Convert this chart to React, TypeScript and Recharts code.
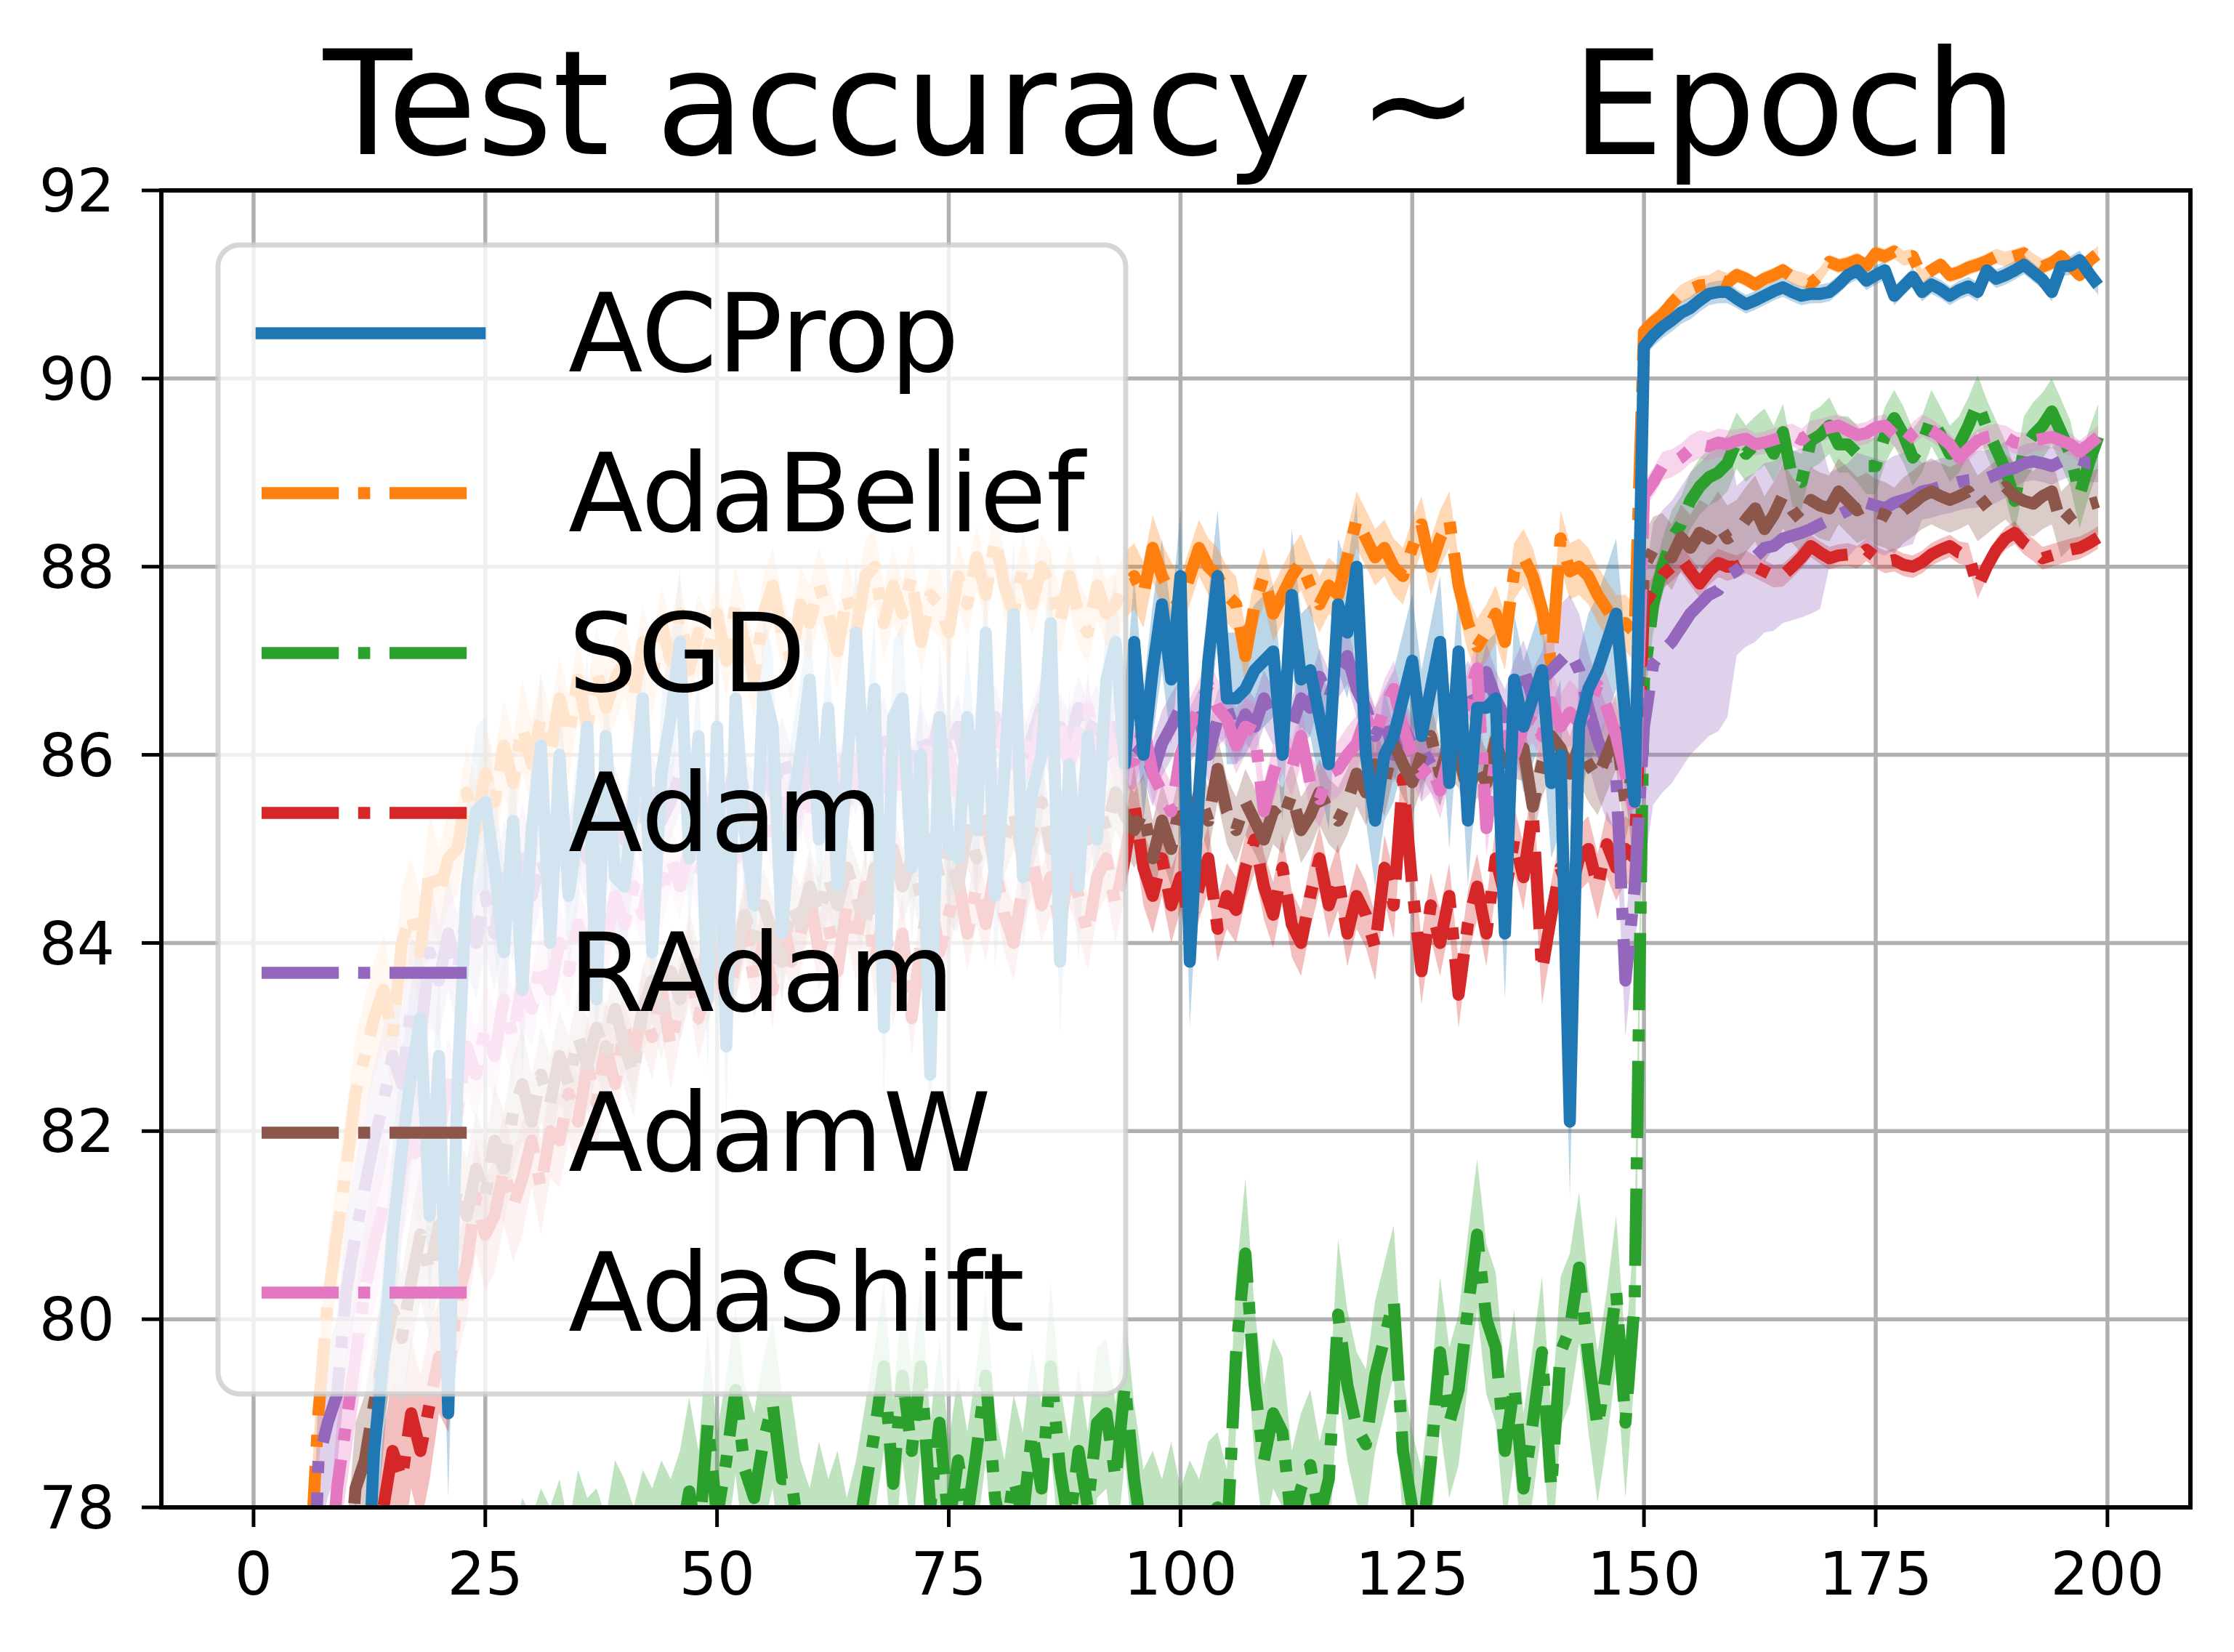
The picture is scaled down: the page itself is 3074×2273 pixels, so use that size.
import React from 'react';
import { ComposedChart, Line, Area, XAxis, YAxis, CartesianGrid } from 'recharts';

const ACPROP = [
  40.0, 55.2, 61.8, 66.0, 68.9, 71.2, 72.8, 74.1, 75.0, 75.9,
  76.6, 77.1, 76.5, 78.6, 79.6, 80.9, 81.8, 82.6, 83.2, 81.1,
  82.8, 79.0, 82.5, 84.6, 85.4, 85.5, 84.8, 83.9, 85.3, 83.5,
  85.2, 86.1, 84.0, 86.0, 84.5, 85.2, 86.3, 83.4, 86.2, 84.7,
  84.6, 85.5, 86.6, 83.9, 85.8, 86.4, 87.2, 84.9, 86.2, 83.4,
  86.3, 82.9, 86.6, 85.2, 84.4, 86.7, 86.3, 84.1, 85.4, 86.0,
  86.8, 85.1, 86.5, 84.6, 85.8, 87.3, 85.5, 86.7, 83.1, 86.4,
  86.6, 84.8, 86.0, 82.6, 86.4, 85.0, 84.9, 86.4, 85.2, 87.3,
  84.5, 85.8, 87.5, 84.7, 85.6, 86.0, 87.4, 83.8, 85.9, 84.6,
  86.2, 85.1, 86.8, 87.2, 85.9, 87.2, 86.0, 86.9, 87.6, 86.8,
  87.9, 83.8, 85.6, 87.0, 87.9, 86.6, 86.6, 86.7, 86.9, 87.0,
  87.1, 86.0, 87.7, 86.8, 86.9, 86.4, 85.9, 87.6, 87.3, 88.0,
  86.0, 85.3, 86.0, 86.2, 86.6, 87.0, 86.2, 86.7, 87.2, 85.7,
  87.1, 85.3, 86.5, 86.5, 86.6, 84.1, 86.8, 86.3, 86.6, 86.9,
  85.7, 86.0, 82.1, 86.3, 86.7, 86.9, 87.2, 87.5, 86.4, 85.5,
  90.34, 90.46, 90.55, 90.62, 90.7, 90.75, 90.83, 90.9, 90.92, 90.92,
  90.85, 90.79, 90.83, 90.88, 90.93, 90.97, 90.92, 90.88, 90.9, 90.9,
  90.92, 91.0, 91.1, 91.15, 91.04, 91.1, 91.15, 90.88, 90.98, 91.08,
  90.92, 91.0, 90.95, 90.88, 90.94, 90.98, 90.92, 91.15, 91.06, 91.1,
  91.15, 91.21, 91.13, 91.05, 90.92, 91.19, 91.2, 91.26, 91.12, 90.99,
];

const ADABELIEF = [
  45.0, 60.0, 66.0, 70.0, 73.0, 75.5, 77.2, 79.0, 80.2, 80.9,
  81.6, 82.4, 82.8, 83.2, 83.5, 83.0, 84.0, 84.3, 83.9, 84.8,
  84.5, 84.9, 85.0, 85.6, 85.2, 85.8, 85.5, 86.1, 85.7, 86.3,
  85.9, 86.4, 86.0, 86.6, 86.2, 86.8, 86.3, 86.9, 86.5, 86.8,
  87.0, 86.6, 87.2, 86.8, 87.4, 87.0, 87.5, 86.9, 87.3, 87.1,
  87.5, 87.0, 87.6, 87.2, 86.8, 87.5, 87.8, 87.3, 87.0, 87.6,
  87.4, 87.8, 87.5, 87.1, 87.7, 87.3, 87.9, 88.0, 87.4, 87.8,
  87.5, 87.9, 87.2, 87.7, 87.6, 87.3, 87.9, 87.6, 88.1, 87.7,
  88.3, 87.8, 87.5, 88.0, 87.6, 88.0, 87.8, 87.4, 87.9, 87.5,
  87.3, 87.8, 87.5, 87.6, 87.8, 87.9, 87.7, 88.2, 87.9, 87.7,
  87.6, 87.9, 88.2, 88.0, 87.9, 87.7, 87.6, 87.05, 87.6, 87.9,
  87.5, 87.7, 87.9, 88.05, 87.8, 87.6, 87.8, 87.7, 88.1, 88.5,
  88.3, 88.1, 88.2, 88.0, 87.9, 88.2, 88.45, 88.0, 88.3, 88.5,
  87.8, 87.4, 87.15, 87.3, 87.5, 87.2, 87.95, 88.1, 87.9, 87.55,
  86.97, 88.3, 87.95, 88.0, 87.9, 87.7, 87.55, 87.4, 87.4, 87.3,
  90.5, 90.6, 90.68, 90.8, 90.9, 90.95, 90.99, 91.0, 91.06, 91.02,
  91.1, 91.06, 91.0, 91.06, 91.1, 91.15, 91.08, 91.05, 91.01, 91.1,
  91.24, 91.2, 91.22, 91.26, 91.2, 91.33, 91.3, 91.35, 91.28, 91.3,
  91.08, 91.15, 91.21, 91.1, 91.13, 91.18, 91.21, 91.25, 91.3, 91.27,
  91.3, 91.33, 91.25, 91.19, 91.23, 91.3, 91.2, 91.1, 91.25, 91.33,
];

const SGD = [
  35.0, 48.0, 55.0, 60.0, 63.0, 65.0, 67.0, 68.5, 70.0, 71.0,
  72.0, 72.5, 73.0, 73.5, 74.0, 74.3, 74.6, 75.0, 75.2, 75.5,
  75.7, 76.0, 76.1, 76.3, 76.5, 76.6, 76.8, 77.0, 76.7, 77.1,
  76.9, 77.2, 77.0, 77.3, 76.8, 77.4, 77.1, 77.2, 76.9, 77.5,
  77.3, 77.0, 77.4, 77.2, 77.5, 77.3, 77.6, 78.17, 77.6, 78.9,
  77.9, 78.5, 79.25, 78.4, 78.1, 78.7, 79.1, 78.3, 78.3, 77.6,
  77.3, 77.8, 77.4, 77.7, 77.2, 77.6, 78.2, 78.8, 79.5, 78.25,
  79.4, 78.6, 79.5, 78.0, 78.9, 77.8, 78.5, 77.9, 78.6, 79.4,
  78.1, 77.6, 78.3, 77.9, 78.8, 78.2, 79.5, 78.4, 77.8, 78.6,
  78.0, 78.9, 79.0, 78.3, 79.3, 78.3, 77.6, 77.8, 77.5, 77.9,
  77.4, 77.7, 77.5, 77.9, 78.0, 77.6, 79.65, 80.7, 79.3, 78.5,
  79.0, 78.8, 77.8, 78.2, 78.45, 77.9, 78.3, 80.05, 79.3, 78.85,
  78.67, 79.4, 79.8, 80.2, 78.6, 78.0, 77.6, 78.5, 79.65, 78.9,
  79.25, 80.1, 80.9, 80.0, 79.7, 78.6, 79.3, 78.2, 78.9, 79.65,
  78.2, 79.65, 79.9, 80.55, 79.6, 78.85, 79.5, 80.3, 78.9, 80.2,
  86.8, 87.6, 88.0, 88.3, 88.45, 88.7, 88.85, 88.95, 89.0, 89.1,
  89.34, 89.2, 89.3, 89.38, 89.2, 89.43, 88.94, 88.9, 89.34, 89.4,
  89.5, 89.3, 89.3, 89.2, 89.07, 89.07, 89.4, 89.58, 89.4, 89.16,
  89.3, 89.58, 89.4, 89.2, 89.3, 89.5, 89.74, 89.47, 89.25, 89.03,
  88.7, 89.25, 89.4, 89.5, 89.65, 89.43, 89.2, 88.76, 89.1, 89.38,
];

const ADAM = [
  40.0, 52.0, 58.0, 62.0, 65.0, 67.5, 69.5, 71.0, 72.5, 73.5,
  74.5, 75.3, 76.0, 76.7, 78.0, 78.6, 78.3, 79.0, 78.6, 79.1,
  79.6, 79.4, 80.2, 80.6, 81.3, 80.9, 81.1, 81.6, 81.2, 81.5,
  81.9, 81.4, 82.0, 81.9, 82.4, 82.1, 82.7, 82.3, 82.9, 82.5,
  83.1, 82.8, 83.3, 83.0, 83.5, 82.9, 83.4, 83.8, 83.2, 83.6,
  83.9, 83.3, 83.8, 84.2, 83.6, 84.0, 83.5, 84.3, 83.8, 84.1,
  84.5, 83.9, 84.2, 83.7, 84.4, 84.0, 84.6, 83.8, 84.3, 83.5,
  84.1, 83.2, 84.0, 84.5, 83.9, 84.3, 84.7, 84.1, 84.6, 84.2,
  84.8, 84.3, 84.0, 84.6, 84.9, 84.4, 84.7, 84.2, 84.8, 84.5,
  84.1, 84.7, 84.9, 84.4, 84.9, 85.5, 84.8, 84.5, 84.9, 84.4,
  84.7, 84.2, 84.6, 84.9, 84.15, 84.5, 84.35, 84.8, 85.1, 84.6,
  84.3, 84.8, 84.2, 84.0, 84.5, 84.9, 84.4, 84.7, 84.1, 84.5,
  84.3, 83.95, 84.8, 84.4, 85.75, 84.6, 83.7, 84.4, 84.0, 84.5,
  83.45, 84.2, 84.6, 84.1, 84.9, 84.5, 85.1, 84.7, 85.4, 83.7,
  84.3, 84.8, 84.5, 84.9, 85.0, 84.6, 85.05, 84.8, 85.0, 84.9,
  87.6, 87.75, 87.91, 88.0, 88.09, 87.95, 87.82, 87.95, 88.04, 88.0,
  88.0, 88.05, 88.0, 87.95, 87.9, 87.91, 88.0, 88.1, 88.22, 88.15,
  88.09, 88.12, 88.13, 88.1, 88.18, 88.1, 88.05, 88.07, 88.02, 88.0,
  88.05, 88.13, 88.18, 88.22, 88.15, 88.13, 87.78, 88.0, 88.18, 88.3,
  88.36, 88.25, 88.18, 88.09, 88.12, 88.15, 88.18, 88.2, 88.25, 88.31,
];

const RADAM = [
  42.0, 56.0, 63.0, 67.0, 70.0, 72.5, 75.5, 78.5, 78.9, 79.2,
  80.3, 80.9, 81.4, 81.9, 82.3, 82.8, 82.5, 83.3, 83.0, 83.9,
  83.6, 84.1, 83.7, 84.3, 84.0, 84.5, 84.1, 84.7, 84.4, 84.9,
  84.5, 84.9, 84.6, 85.1, 84.8, 85.2, 84.9, 85.3, 85.0, 85.4,
  85.1, 85.5, 85.2, 85.6, 85.3, 85.5, 85.8, 85.4, 85.7, 85.3,
  85.8, 85.5, 85.9, 85.6, 85.4, 85.9, 85.6, 86.0, 85.7, 85.5,
  86.0, 85.8, 86.1, 85.6, 86.0, 85.7, 86.2, 85.9, 86.3, 85.8,
  86.1, 85.7, 86.2, 85.9, 86.4, 86.0, 86.3, 85.8, 86.2, 86.0,
  86.4, 86.1, 86.3, 85.9, 86.2, 86.5, 86.0, 86.3, 86.1, 86.5,
  86.2, 86.4, 86.0, 86.3, 86.0, 85.98, 86.1, 85.8, 86.12, 86.3,
  86.5, 86.2, 86.4, 86.0, 86.38, 86.5, 86.2, 86.43, 86.3, 86.6,
  86.4, 86.52, 86.3, 86.6, 86.5, 86.83, 86.6, 86.9, 87.05, 86.7,
  86.5, 86.2, 86.4, 86.0, 86.3, 86.1, 86.07, 85.9, 85.76, 86.2,
  86.52, 86.7, 86.5, 86.88, 86.6, 86.4, 86.7, 86.92, 86.6, 86.8,
  86.9, 87.0, 87.1, 86.9, 86.5, 86.16, 85.9, 85.8, 83.6, 84.6,
  86.3, 86.97, 87.1, 87.2, 87.35, 87.5, 87.6, 87.7, 87.75, 87.9,
  87.96, 88.05, 88.1, 88.2, 88.22, 88.3, 88.33, 88.36, 88.4, 88.45,
  88.5, 88.55, 88.6, 88.71, 88.68, 88.65, 88.62, 88.68, 88.71, 88.74,
  88.8, 88.82, 88.85, 88.87, 88.9, 88.92, 88.93, 88.94, 88.98, 89.03,
  89.05, 89.1, 89.12, 89.1, 89.07, 89.12, 89.16, 89.14, 89.1, 89.1,
];

const ADAMW = [
  40.0, 54.0, 60.0, 64.0, 67.0, 69.5, 71.5, 73.0, 74.5, 75.8,
  77.0, 78.2, 78.5, 79.1, 79.6, 80.1, 79.8, 80.4, 80.9, 80.5,
  81.0, 80.8, 81.4, 81.1, 81.6, 81.3, 81.9, 81.6, 82.2, 82.5,
  82.1, 82.6, 82.3, 82.8, 82.5, 83.0, 82.7, 83.1, 82.8, 83.3,
  82.9, 82.6, 83.3, 83.6, 83.2, 83.7, 83.4, 83.9, 83.5, 84.0,
  83.7, 84.1, 83.8, 84.3, 84.0, 84.4, 84.1, 83.8, 84.4, 84.2,
  84.6, 84.3, 84.7, 84.4, 84.8, 84.5, 84.2, 84.8, 84.5, 85.0,
  84.6, 84.9, 84.5, 85.1, 84.7, 85.0, 84.6, 85.2, 84.9, 85.3,
  84.8, 85.1, 85.4, 84.9, 85.2, 85.5, 85.0, 85.3, 84.9, 85.4,
  85.1, 85.5, 85.2, 85.6, 85.36, 85.2, 85.4, 84.9, 85.3, 85.0,
  85.5, 85.1, 85.6, 85.3, 85.85, 85.4, 85.2, 85.5, 85.3, 85.1,
  85.4, 85.3, 85.58, 85.2, 85.36, 85.6, 85.4, 85.3, 85.5, 85.8,
  85.6, 85.9, 85.7, 86.12, 85.9, 85.71, 86.0, 86.2, 85.8, 86.1,
  86.0, 85.6, 85.9, 85.7, 86.16, 85.8, 86.1, 86.07, 85.45, 85.9,
  86.2, 86.07, 85.8, 86.1, 85.9, 85.76, 86.0, 86.25, 85.5, 85.9,
  88.0, 88.18, 88.22, 88.1, 88.31, 88.2, 88.36, 88.3, 88.45, 88.3,
  88.36, 88.5, 88.62, 88.4, 88.55, 88.76, 88.6, 88.49, 88.71, 88.65,
  88.62, 88.8, 88.7, 88.6, 88.65, 88.58, 88.55, 88.49, 88.6, 88.67,
  88.75, 88.8, 88.75, 88.71, 88.75, 88.8, 88.62, 88.7, 88.78, 88.85,
  88.75, 88.7, 88.67, 88.75, 88.8, 88.45, 88.55, 88.62, 88.66, 88.69,
];

const ADASHIFT = [
  41.0, 55.0, 62.0, 66.0, 69.0, 71.5, 73.5, 75.3, 77.0, 78.2,
  78.9, 79.6, 80.3, 80.8, 81.2, 81.0, 81.6, 81.9, 81.7, 82.2,
  82.0, 82.5, 82.2, 82.9, 82.6, 83.1, 82.8, 83.4, 83.0, 83.6,
  83.3, 83.8, 83.5, 84.0, 83.7, 84.2, 83.9, 84.3, 84.0, 84.5,
  84.2, 84.6, 84.3, 84.8, 84.5, 84.9, 84.6, 85.0, 84.7, 85.1,
  84.8, 85.2, 84.9, 85.3, 85.0, 85.4, 85.1, 85.5, 85.2, 85.6,
  85.3, 85.7, 85.4, 85.8, 85.5, 85.9, 85.6, 85.3, 85.8, 86.0,
  85.6, 85.9, 85.5, 86.1, 85.7, 86.0, 85.6, 86.2, 85.8, 86.1,
  85.7, 86.3, 85.9, 86.2, 85.8, 86.4, 86.0, 86.3, 85.9, 86.2,
  86.5, 86.0, 86.3, 85.9, 85.9, 85.94, 86.3, 85.8, 85.6, 85.4,
  86.0, 86.3, 86.5, 86.74, 86.5, 86.38, 86.1, 86.3, 86.25, 85.4,
  85.8, 86.1, 85.85, 86.2, 85.7, 85.53, 85.8, 85.85, 86.0, 86.12,
  86.4, 86.2, 86.5, 86.7, 86.3, 86.0, 85.8, 85.9, 85.62, 86.0,
  86.3, 86.6, 86.92, 85.22, 85.98, 86.2, 86.0, 86.3, 86.43, 86.2,
  86.56, 86.3, 86.45, 86.34, 86.5, 86.74, 86.5, 86.2, 85.8, 85.4,
  88.76, 88.9, 89.07, 89.1, 89.16, 89.25, 89.3, 89.28, 89.32, 89.3,
  89.34, 89.36, 89.3, 89.32, 89.35, 89.38, 89.4, 89.35, 89.43, 89.45,
  89.48, 89.5, 89.45, 89.4, 89.42, 89.48, 89.5, 89.4, 89.3, 89.42,
  89.5, 89.45, 89.38, 89.3, 89.16, 89.25, 89.34, 89.38, 89.4, 89.38,
  89.32, 89.3, 89.34, 89.36, 89.38, 89.34, 89.3, 89.22, 89.3, 89.38,
];

// half-width of the shaded std band, one value per block of 10 epochs
const ACPROP_STD = [1.0, 1.0, 0.9, 0.8, 0.8, 0.8, 0.8, 0.8, 0.8, 0.7, 0.7, 0.7, 0.7, 0.7, 0.8, 0.12, 0.1, 0.1, 0.1, 0.1];
const ADABELIEF_STD = [0.6, 0.6, 0.5, 0.45, 0.4, 0.4, 0.4, 0.35, 0.35, 0.35, 0.3, 0.3, 0.3, 0.3, 0.3, 0.1, 0.08, 0.08, 0.08, 0.08];
const SGD_STD = [1.0, 1.0, 1.0, 1.0, 1.0, 0.9, 0.9, 0.9, 0.9, 0.8, 0.8, 0.8, 0.8, 0.8, 0.8, 0.3, 0.3, 0.3, 0.3, 0.35];
const ADAM_STD = [0.8, 0.8, 0.6, 0.5, 0.45, 0.4, 0.4, 0.4, 0.4, 0.4, 0.35, 0.35, 0.35, 0.35, 0.35, 0.15, 0.12, 0.12, 0.12, 0.12];
const RADAM_STD = [0.8, 0.8, 0.6, 0.5, 0.4, 0.4, 0.35, 0.35, 0.35, 0.35, 0.3, 0.3, 0.3, 0.3, 0.6, 1.5, 0.9, 0.5, 0.3, 0.2];
const ADAMW_STD = [0.8, 0.7, 0.6, 0.5, 0.45, 0.4, 0.4, 0.4, 0.4, 0.4, 0.35, 0.35, 0.35, 0.35, 0.4, 0.35, 0.35, 0.35, 0.35, 0.35];
const ADASHIFT_STD = [0.7, 0.7, 0.5, 0.4, 0.35, 0.35, 0.35, 0.3, 0.3, 0.3, 0.3, 0.3, 0.3, 0.3, 0.35, 0.15, 0.12, 0.12, 0.12, 0.12];

const X_TICKS = [0, 25, 50, 75, 100, 125, 150, 175, 200];
const Y_TICKS = [78, 80, 82, 84, 86, 88, 90, 92];

const SERIES = [
  { key: 'acprop', name: 'ACProp', color: '#1f77b4', values: ACPROP, std: ACPROP_STD, solid: true },
  { key: 'adabelief', name: 'AdaBelief', color: '#ff7f0e', values: ADABELIEF, std: ADABELIEF_STD },
  { key: 'sgd', name: 'SGD', color: '#2ca02c', values: SGD, std: SGD_STD },
  { key: 'adam', name: 'Adam', color: '#d62728', values: ADAM, std: ADAM_STD },
  { key: 'radam', name: 'RAdam', color: '#9467bd', values: RADAM, std: RADAM_STD },
  { key: 'adamw', name: 'AdamW', color: '#8c564b', values: ADAMW, std: ADAMW_STD },
  { key: 'adashift', name: 'AdaShift', color: '#e377c2', values: ADASHIFT, std: ADASHIFT_STD },
];

const W = 3074;
const H = 2273;
const LW = 16.6;
const DASH = `${6.4 * LW} ${1.6 * LW} ${LW} ${1.6 * LW}`;
const FONT = '"DejaVu Sans", sans-serif';

const chartData = ACPROP.map((_, i) => {
  const row: Record<string, number | number[]> = { epoch: i };
  SERIES.forEach((s) => {
    const v = s.values[i];
    const d = s.std[Math.floor(i / 10)];
    row[s.key] = v;
    row[`${s.key}Band`] = [v - d, v + d];
  });
  return row;
});

// ACProp drawn last so it sits on top
const lineOrder = [...SERIES.slice(1), SERIES[0]];

function Overlay() {
  const rowGap = 220;
  return (
    <svg width={W} height={H} style={{ position: 'absolute', left: 0, top: 0, pointerEvents: 'none' }}>
      <rect x={222} y={262} width={2792} height={1812} fill="none" stroke="#000" strokeWidth={6} />
      <text
        x={1610}
        y={212}
        textAnchor="middle"
        fontSize={200}
        fontFamily={FONT}
        fill="#000"
        style={{ whiteSpace: 'pre' }}
      >
        {'Test accuracy ~  Epoch'}
      </text>
      <rect
        x={300}
        y={337}
        width={1249}
        height={1581}
        rx={30}
        fill="#fff"
        fillOpacity={0.8}
        stroke="#cccccc"
        strokeOpacity={0.8}
        strokeWidth={7}
      />
      {SERIES.map((s, i) => (
        <g key={s.key}>
          <line
            x1={360}
            x2={660}
            y1={458.5 + rowGap * i}
            y2={458.5 + rowGap * i}
            stroke={s.color}
            strokeWidth={LW}
            strokeDasharray={s.solid ? undefined : DASH}
            strokeLinecap={s.solid ? 'square' : 'butt'}
          />
          <text x={782} y={511 + rowGap * i} fontSize={150} fontFamily={FONT} fill="#000">
            {s.name}
          </text>
        </g>
      ))}
    </svg>
  );
}

export default function App() {
  const tickStyle = { fontSize: 82, fill: '#000', fontFamily: FONT };
  return (
    <div style={{ position: 'absolute', left: 0, top: 0, width: W, height: H, background: '#fff' }}>
      <ComposedChart width={W} height={H} data={chartData} margin={{ top: 262, right: 60, bottom: 0, left: 0 }}>
        <CartesianGrid stroke="#b0b0b0" strokeWidth={5.5} />
        <XAxis
          dataKey="epoch"
          type="number"
          domain={[-9.95, 208.95]}
          ticks={X_TICKS}
          interval={0}
          allowDataOverflow
          height={199}
          tick={tickStyle}
          tickSize={27}
          tickMargin={35}
          tickLine={{ stroke: '#000', strokeWidth: 5 }}
          axisLine={{ stroke: '#000', strokeWidth: 6 }}
        />
        <YAxis
          type="number"
          domain={[78, 92]}
          ticks={Y_TICKS}
          interval={0}
          allowDataOverflow
          width={222}
          tick={tickStyle}
          tickSize={27}
          tickMargin={37}
          tickLine={{ stroke: '#000', strokeWidth: 5 }}
          axisLine={{ stroke: '#000', strokeWidth: 6 }}
        />
        {SERIES.map((s) => (
          <Area
            key={`${s.key}-band`}
            type="linear"
            dataKey={`${s.key}Band`}
            stroke="none"
            fill={s.color}
            fillOpacity={0.3}
            isAnimationActive={false}
            dot={false}
            activeDot={false}
          />
        ))}
        {lineOrder.map((s) => (
          <Line
            key={s.key}
            type="linear"
            dataKey={s.key}
            stroke={s.color}
            strokeWidth={LW}
            strokeDasharray={s.solid ? undefined : DASH}
            strokeLinejoin="round"
            dot={false}
            activeDot={false}
            isAnimationActive={false}
          />
        ))}
      </ComposedChart>
      <Overlay />
    </div>
  );
}
